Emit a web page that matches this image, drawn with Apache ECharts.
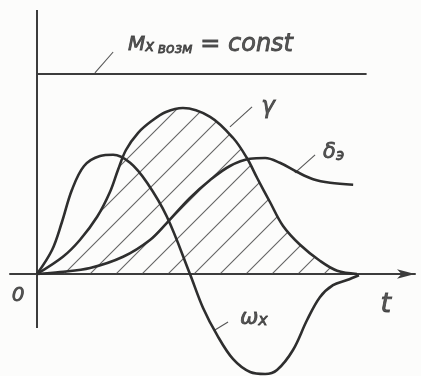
<!DOCTYPE html>
<html>
<head>
<meta charset="utf-8">
<script src="https://cdn.jsdelivr.net/npm/echarts@6/dist/echarts.min.js"></script>
<style>
  html, body { margin: 0; padding: 0; background: #fcfcfb; }
  #chart { width: 421px; height: 376px; }
</style>
</head>
<body>
<div id="chart"></div>
<script>
// Time samples and curve values (arbitrary units) for the roll manoeuvre sketch.
const omegaT = [0, 0.47, 0.78, 1.09, 1.47, 1.97, 2.38, 2.91, 3.44, 4.06, 4.78, 5.19, 5.63, 6.13, 6.66, 7.13, 7.50, 8.00, 8.44, 8.84, 9.25, 9.69, 10.06];
const omegaV = [0, 0.60, 1.30, 2.10, 2.70, 2.95, 2.98, 2.78, 2.28, 1.43, 0, -0.85, -1.53, -2.13, -2.45, -2.50, -2.40, -1.90, -1.15, -0.58, -0.28, -0.15, -0.03];

const gammaT = [0, 0.81, 1.34, 1.88, 2.28, 2.53, 2.78, 3.16, 3.59, 4.03, 4.56, 5.41, 6.13, 6.56, 6.88, 7.28, 7.69, 8.22, 8.84, 9.38, 10.0];
const gammaV = [0, 0.43, 0.85, 1.43, 2.05, 2.60, 3.10, 3.53, 3.83, 4.05, 4.15, 3.93, 3.40, 2.90, 2.40, 1.80, 1.20, 0.73, 0.33, 0.08, 0];

const deltaT = [0, 0.72, 1.66, 2.69, 3.53, 4.06, 4.78, 5.41, 6.03, 6.66, 7.13, 7.59, 8.13, 8.63, 9.16, 9.88];
const deltaV = [0, 0.05, 0.15, 0.43, 0.85, 1.28, 1.90, 2.35, 2.70, 2.88, 2.90, 2.78, 2.55, 2.37, 2.28, 2.23];

// Constant disturbing moment level and its extent in time
const momentLevel = 5.0;
const momentEnd = 10.3;

// Vertical axis extent
const yAxisBottom = -1.35;
const yAxisTop = 6.6;

// Text labels
const momentLabel = ['M', 'x', 'возм', ' = const'];
const gammaLabel = 'γ';
const deltaLabel = ['δ', 'э'];
const omegaLabel = ['ω', 'x'];
const originLabel = '0';
const timeLabel = 't';

const zip = (a, b) => a.map((v, i) => [v, b[i]]);

// Diagonal hatching tile for the area under γ
function hatchPattern() {
  const s = 26;
  const c = document.createElement('canvas');
  c.width = s; c.height = s;
  const ctx = c.getContext('2d');
  ctx.strokeStyle = 'rgba(70,70,70,0.85)';
  ctx.lineWidth = 1.1;
  [0, s, 2 * s].forEach(k => {
    ctx.beginPath();
    ctx.moveTo(k - s - 1, s + 1);
    ctx.lineTo(k + 1, -1);
    ctx.stroke();
  });
  return { image: c, repeat: 'repeat' };
}

const ink = '#2e2e2e';
const thin = { color: '#555', width: 1.1 };

function leader(a, b) {
  return {
    type: 'line', data: [a, b], symbol: 'none', silent: true,
    lineStyle: thin, z: 4
  };
}

// Rich-text style helper: italic, slightly thickened strokes
function hs(size, extra) {
  return Object.assign({
    fontSize: size, fontStyle: 'italic', color: ink,
    fontFamily: '"DejaVu Sans", sans-serif',
    textBorderColor: ink, textBorderWidth: 0.8
  }, extra || {});
}

function textMark(pos, formatter, rich, align) {
  return {
    type: 'scatter', data: [pos], symbolSize: 0, silent: true, z: 6,
    label: {
      show: true, position: 'inside', formatter: formatter,
      align: align || 'center', verticalAlign: 'middle',
      color: ink, fontStyle: 'italic', fontFamily: '"DejaVu Sans", sans-serif',
      rich: rich
    }
  };
}

const chart = echarts.init(document.getElementById('chart'), null, { renderer: 'canvas' });

chart.setOption({
  backgroundColor: '#fcfcfb',
  animation: false,
  grid: { left: 10, right: 6, top: 0, bottom: 0 },
  xAxis: {
    type: 'value', min: -0.84375, max: 11.8125,
    axisLine: {
      show: true, onZero: true,
      lineStyle: { color: '#3c3c3c', width: 2 },
      symbol: ['none', 'arrow'], symbolSize: [7, 18]
    },
    axisTick: { show: false }, axisLabel: { show: false }, splitLine: { show: false }
  },
  yAxis: {
    type: 'value', min: -2.55, max: 6.85,
    axisLine: { show: false }, axisTick: { show: false },
    axisLabel: { show: false }, splitLine: { show: false }
  },
  series: [
    // vertical axis
    {
      type: 'line', data: [[0, yAxisBottom], [0, yAxisTop]], symbol: 'none', silent: true,
      lineStyle: { color: '#3c3c3c', width: 2 }, z: 3
    },
    // constant disturbing moment
    {
      type: 'line', data: [[0, momentLevel], [momentEnd, momentLevel]], symbol: 'none', silent: true,
      lineStyle: { color: '#3c3c3c', width: 2 }, z: 3
    },
    // roll angle γ with hatched area
    {
      type: 'line', data: zip(gammaT, gammaV), smooth: 0.35, symbol: 'none', silent: true,
      lineStyle: { color: ink, width: 2.6 },
      areaStyle: { color: hatchPattern(), opacity: 1, origin: 0 },
      z: 5
    },
    // roll rate ω_x
    {
      type: 'line', data: zip(omegaT, omegaV), smooth: 0.35, symbol: 'none', silent: true,
      clip: false,
      lineStyle: { color: ink, width: 2.6 }, z: 5
    },
    // aileron deflection δ_э
    {
      type: 'line', data: zip(deltaT, deltaV), smooth: 0.35, symbol: 'none', silent: true,
      lineStyle: { color: ink, width: 2.6 }, z: 5
    },
    leader([1.81, 5.03], [2.38, 5.55]),
    leader([6.03, 3.68], [6.72, 4.18]),
    leader([8.06, 2.53], [8.69, 2.98]),
    leader([5.56, -1.40], [5.97, -1.20]),
    textMark([2.84, 5.73],
      `{m|${momentLabel[0]}}{x|${momentLabel[1]}} {sub|${momentLabel[2]}}{eq|${momentLabel[3]}}`,
      {
        m: hs(20),
        x: hs(15, { padding: [4, 0, 0, 0] }),
        sub: hs(14, { padding: [10, 0, 0, 0] }),
        eq: hs(24)
      }, 'left'),
    textMark([7.22, 4.18], `{g|${gammaLabel}}`, { g: hs(23) }),
    textMark([8.94, 3.03], `{d|${deltaLabel[0]}}{s|${deltaLabel[1]}}`,
      { d: hs(21), s: hs(15, { padding: [6, 0, 0, 0] }) }, 'left'),
    textMark([6.34, -1.10], `{w|${omegaLabel[0]}}{s|${omegaLabel[1]}}`,
      { w: hs(22), s: hs(16, { padding: [6, 0, 0, 0] }) }, 'left'),
    textMark([-0.59, -0.55], `{o|${originLabel}}`, { o: hs(20) }),
    textMark([10.9, -0.78], `{t|${timeLabel}}`, { t: hs(27) })
  ]
});
</script>
</body>
</html>
